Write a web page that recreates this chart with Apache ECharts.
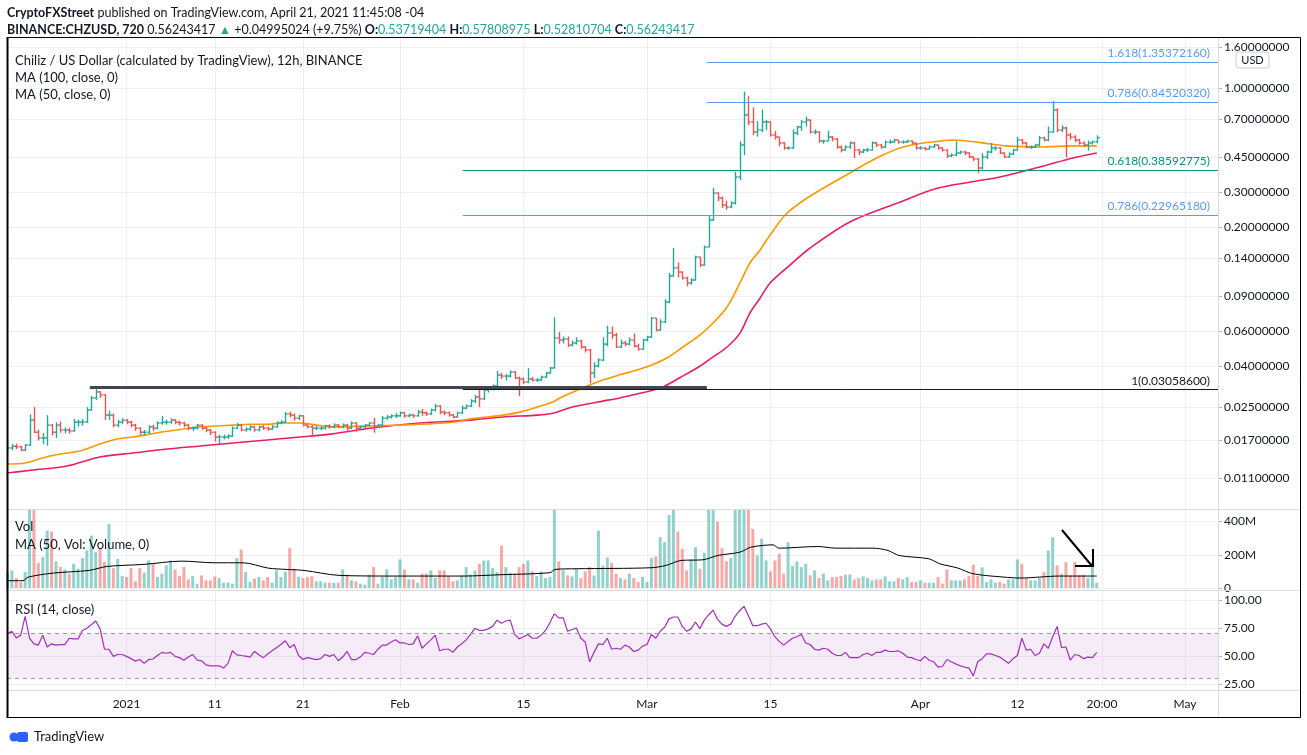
<!DOCTYPE html>
<html>
<head>
<meta charset="utf-8">
<title>Chiliz / US Dollar 12h</title>
<script src="https://cdn.jsdelivr.net/npm/echarts@6/dist/echarts.min.js"></script>
<style>
  html, body { margin: 0; padding: 0; background: #fff; }
  #chart { width: 1307px; height: 755px; }
</style>
</head>
<body>
<div id="chart"></div>
<script>
// 12h bars, the first one opens 2020-12-18 12:00 UTC
const firstBar = '2020-12-18 12:00'
const firstOpen = 0.0149

const closes = [
  0.0156, 0.0159, 0.0158, 0.0152, 0.0161, 0.0215, 0.0187, 0.0175, 0.0175, 0.0203,
  0.0187, 0.0203, 0.0192, 0.0192, 0.0190, 0.0210, 0.0210, 0.0211, 0.0242, 0.0278,
  0.0298, 0.0288, 0.0228, 0.0228, 0.0203, 0.0210, 0.0215, 0.0210, 0.0203, 0.0196,
  0.0187, 0.0187, 0.0199, 0.0196, 0.0208, 0.0210, 0.0210, 0.0215, 0.0210, 0.0208,
  0.0203, 0.0196, 0.0196, 0.0203, 0.0196, 0.0192, 0.0187, 0.0177, 0.0177, 0.0177,
  0.0179, 0.0196, 0.0203, 0.0192, 0.0194, 0.0199, 0.0192, 0.0199, 0.0196, 0.0194,
  0.0199, 0.0208, 0.0210, 0.0231, 0.0228, 0.0220, 0.0226, 0.0203, 0.0199, 0.0196,
  0.0196, 0.0196, 0.0201, 0.0199, 0.0203, 0.0199, 0.0203, 0.0196, 0.0208, 0.0196,
  0.0199, 0.0203, 0.0208, 0.0199, 0.0203, 0.0220, 0.0223, 0.0226, 0.0226, 0.0234,
  0.0226, 0.0228, 0.0226, 0.0236, 0.0234, 0.0231, 0.0242, 0.0253, 0.0236, 0.0234,
  0.0228, 0.0223, 0.0234, 0.0247, 0.0253, 0.0268, 0.0281, 0.0275, 0.0305, 0.0308,
  0.0319, 0.0362, 0.0358, 0.0358, 0.0375, 0.0350, 0.0346, 0.0334, 0.0346, 0.0342,
  0.0342, 0.0354, 0.0371, 0.0393, 0.0556, 0.0543, 0.0549, 0.0512, 0.0525, 0.0537,
  0.0501, 0.0484, 0.0371, 0.0402, 0.0431, 0.0518, 0.0589, 0.0575, 0.0501, 0.0525,
  0.0518, 0.0543, 0.0506, 0.0489, 0.0543, 0.0562, 0.0700, 0.0609, 0.0669, 0.0843,
  0.1138, 0.1250, 0.1192, 0.1112, 0.1050, 0.1086, 0.1417, 0.1292, 0.1591, 0.2174,
  0.2970, 0.2803, 0.2586, 0.2527, 0.2646, 0.3574, 0.5174, 0.7319, 0.6750, 0.6013,
  0.6154, 0.6750, 0.6750, 0.5808, 0.5675, 0.5295, 0.4998, 0.4998, 0.5944, 0.6371,
  0.6750, 0.6908, 0.6013, 0.6013, 0.5419, 0.5419, 0.5675, 0.5545, 0.5056, 0.4883,
  0.5056, 0.5295, 0.4883, 0.4772, 0.4883, 0.4883, 0.5295, 0.5174, 0.5056, 0.5357,
  0.5357, 0.5481, 0.5357, 0.5357, 0.5419, 0.5295, 0.4998, 0.4998, 0.4940, 0.5056,
  0.5174, 0.4998, 0.4883, 0.4556, 0.4609, 0.4717, 0.4772, 0.4717, 0.4504, 0.4401,
  0.3966, 0.4504, 0.4772, 0.4998, 0.4998, 0.4717, 0.4504, 0.4663, 0.4883, 0.5481,
  0.5295, 0.5056, 0.5056, 0.5174, 0.5610, 0.5481, 0.6013, 0.7755, 0.6154, 0.6298,
  0.5808, 0.5675, 0.5481, 0.5295, 0.5174, 0.5295, 0.5372, 0.5624
]

const highs = [
  0.0175, 0.0163, 0.0164, 0.0160, 0.0163, 0.0230, 0.0250, 0.0192, 0.0185, 0.0228,
  0.0206, 0.0210, 0.0212, 0.0198, 0.0197, 0.0218, 0.0216, 0.0218, 0.0250, 0.0284,
  0.0310, 0.0300, 0.0290, 0.0240, 0.0232, 0.0216, 0.0220, 0.0218, 0.0214, 0.0206,
  0.0198, 0.0192, 0.0203, 0.0204, 0.0212, 0.0226, 0.0216, 0.0220, 0.0218, 0.0214,
  0.0211, 0.0206, 0.0200, 0.0206, 0.0205, 0.0199, 0.0194, 0.0189, 0.0181, 0.0182,
  0.0183, 0.0200, 0.0208, 0.0206, 0.0198, 0.0203, 0.0201, 0.0202, 0.0203, 0.0199,
  0.0203, 0.0212, 0.0215, 0.0236, 0.0237, 0.0232, 0.0229, 0.0228, 0.0207, 0.0203,
  0.0201, 0.0200, 0.0204, 0.0205, 0.0207, 0.0206, 0.0207, 0.0206, 0.0212, 0.0210,
  0.0202, 0.0206, 0.0210, 0.0221, 0.0206, 0.0226, 0.0228, 0.0230, 0.0234, 0.0238,
  0.0236, 0.0232, 0.0231, 0.0242, 0.0245, 0.0238, 0.0246, 0.0259, 0.0256, 0.0240,
  0.0238, 0.0231, 0.0237, 0.0255, 0.0258, 0.0274, 0.0288, 0.0312, 0.0316, 0.0314,
  0.0325, 0.0380, 0.0372, 0.0366, 0.0382, 0.0380, 0.0356, 0.0352, 0.0392, 0.0355,
  0.0350, 0.0360, 0.0376, 0.0398, 0.0705, 0.0598, 0.0566, 0.0566, 0.0540, 0.0560,
  0.0545, 0.0505, 0.0490, 0.0420, 0.0440, 0.0560, 0.0640, 0.0635, 0.0590, 0.0546,
  0.0538, 0.0560, 0.0585, 0.0520, 0.0550, 0.0570, 0.0708, 0.0700, 0.0690, 0.0870,
  0.1180, 0.1570, 0.1330, 0.1200, 0.1130, 0.1110, 0.1440, 0.1420, 0.1620, 0.2300,
  0.3150, 0.3000, 0.2850, 0.2720, 0.2700, 0.3800, 0.5400, 0.9580, 0.9100, 0.8000,
  0.6800, 0.7800, 0.6900, 0.6800, 0.6100, 0.5700, 0.5350, 0.5100, 0.6200, 0.6450,
  0.6900, 0.7200, 0.6950, 0.6200, 0.6050, 0.5500, 0.6100, 0.5750, 0.5600, 0.5150,
  0.5150, 0.5400, 0.5350, 0.4950, 0.4950, 0.5000, 0.5400, 0.5350, 0.5250, 0.5450,
  0.5500, 0.5550, 0.5500, 0.5450, 0.5500, 0.5450, 0.5300, 0.5100, 0.5050, 0.5150,
  0.5250, 0.5200, 0.5050, 0.4900, 0.4700, 0.5400, 0.4850, 0.4850, 0.4750, 0.4550,
  0.4450, 0.4700, 0.4850, 0.5300, 0.5100, 0.5050, 0.4750, 0.4750, 0.4950, 0.5700,
  0.5550, 0.5350, 0.5150, 0.5250, 0.5750, 0.5700, 0.6400, 0.8600, 0.7900, 0.6500,
  0.6400, 0.5950, 0.5800, 0.5550, 0.5400, 0.5450, 0.5450, 0.5781
]

const lows = [
  0.0147, 0.0152, 0.0154, 0.0150, 0.0151, 0.0160, 0.0185, 0.0170, 0.0163, 0.0160,
  0.0180, 0.0175, 0.0186, 0.0185, 0.0184, 0.0188, 0.0200, 0.0202, 0.0208, 0.0240,
  0.0272, 0.0278, 0.0215, 0.0215, 0.0198, 0.0198, 0.0205, 0.0205, 0.0198, 0.0190,
  0.0182, 0.0180, 0.0184, 0.0190, 0.0193, 0.0204, 0.0204, 0.0206, 0.0205, 0.0202,
  0.0198, 0.0191, 0.0190, 0.0193, 0.0192, 0.0187, 0.0181, 0.0168, 0.0163, 0.0172,
  0.0173, 0.0177, 0.0194, 0.0189, 0.0188, 0.0190, 0.0188, 0.0189, 0.0192, 0.0190,
  0.0192, 0.0197, 0.0205, 0.0208, 0.0222, 0.0214, 0.0215, 0.0200, 0.0196, 0.0177,
  0.0192, 0.0191, 0.0193, 0.0195, 0.0196, 0.0196, 0.0196, 0.0187, 0.0194, 0.0188,
  0.0193, 0.0196, 0.0200, 0.0186, 0.0196, 0.0200, 0.0216, 0.0219, 0.0220, 0.0224,
  0.0221, 0.0222, 0.0221, 0.0224, 0.0226, 0.0226, 0.0229, 0.0238, 0.0230, 0.0228,
  0.0224, 0.0220, 0.0221, 0.0231, 0.0244, 0.0250, 0.0262, 0.0250, 0.0272, 0.0296,
  0.0303, 0.0315, 0.0346, 0.0340, 0.0352, 0.0345, 0.0284, 0.0326, 0.0330, 0.0336,
  0.0334, 0.0338, 0.0350, 0.0368, 0.0390, 0.0520, 0.0522, 0.0500, 0.0505, 0.0515,
  0.0490, 0.0470, 0.0330, 0.0350, 0.0396, 0.0425, 0.0505, 0.0550, 0.0495, 0.0495,
  0.0505, 0.0510, 0.0498, 0.0480, 0.0485, 0.0535, 0.0556, 0.0600, 0.0605, 0.0660,
  0.0830, 0.1130, 0.1120, 0.1090, 0.1010, 0.1030, 0.1080, 0.1260, 0.1280, 0.1590,
  0.2150, 0.2700, 0.2500, 0.2450, 0.2490, 0.2600, 0.3450, 0.4600, 0.6500, 0.5800,
  0.5700, 0.6000, 0.6150, 0.5700, 0.5500, 0.5100, 0.4900, 0.4900, 0.4950, 0.5800,
  0.6100, 0.6400, 0.5900, 0.5850, 0.5300, 0.5250, 0.5400, 0.5400, 0.4950, 0.4750,
  0.4850, 0.4950, 0.4450, 0.4600, 0.4700, 0.4780, 0.4850, 0.5050, 0.4950, 0.5000,
  0.5250, 0.5300, 0.5250, 0.5250, 0.5300, 0.5200, 0.4900, 0.4900, 0.4850, 0.4900,
  0.5000, 0.4900, 0.4800, 0.4450, 0.4500, 0.4550, 0.4650, 0.4600, 0.4450, 0.4300,
  0.3740, 0.3900, 0.4400, 0.4700, 0.4850, 0.4650, 0.4450, 0.4450, 0.4600, 0.4850,
  0.5200, 0.4980, 0.4950, 0.5000, 0.5100, 0.5400, 0.5400, 0.5950, 0.6000, 0.6000,
  0.4480, 0.5500, 0.5350, 0.5200, 0.5050, 0.4850, 0.5200, 0.5281
]

// volume in millions
const volumes = [
  90, 106, 60, 36, 96, 520, 520, 152, 186, 346,
  340, 160, 126, 112, 86, 146, 116, 180, 226, 316,
  216, 240, 156, 386, 120, 176, 72, 66, 120, 40,
  120, 92, 166, 146, 66, 86, 136, 166, 112, 72,
  126, 52, 72, 26, 76, 46, 46, 70, 60, 32,
  32, 26, 180, 232, 96, 36, 56, 66, 46, 66,
  32, 106, 66, 100, 240, 116, 66, 60, 66, 72,
  40, 40, 32, 32, 32, 32, 112, 80, 46, 40,
  26, 20, 80, 126, 26, 66, 112, 52, 66, 172,
  112, 52, 52, 32, 86, 86, 106, 60, 106, 106,
  72, 40, 46, 76, 126, 80, 106, 146, 166, 166,
  120, 96, 256, 126, 92, 86, 126, 146, 166, 100,
  72, 100, 60, 66,
  520, 160, 106, 76, 70, 116, 60, 100, 126, 76,
  346, 136, 184, 152, 86, 60, 52, 86, 60, 36,
  66, 36, 180, 190, 306, 276, 440, 520, 340, 236,
  106, 172, 246, 116, 212, 520, 520, 400, 240, 160,
  180, 520, 520, 520, 520, 356, 196, 296, 166, 100,
  166, 206, 86, 276, 132, 160, 126, 146, 76, 106,
  60, 86, 46, 66, 66, 72, 80, 82, 52, 60,
  70, 60, 46, 52, 52, 70, 40, 40, 60, 52,
  66, 36, 36, 46, 32, 32, 32, 66, 26, 112,
  46, 46, 46, 52, 72, 140, 72, 124, 36, 52,
  32, 36, 26, 52, 52, 172, 146, 60, 46, 46,
  60, 96, 226, 306, 136, 86, 156, 76, 156, 76,
  80, 60, 156, 32
]

const rsi = [
  70, 72, 66, 68.6, 85.4, 66, 60.8, 59.7, 68.6,
  58, 60.8, 59.7, 60.2, 60.2, 65.8, 65.2, 65.2, 72.8, 74.8,
  77.8, 81.2, 74.2, 56, 56, 49.6, 51.3, 51.3, 49.6, 47.6,
  45.4, 46.8, 43.4, 46.8, 47.3, 50.4, 53.2, 52.4, 53.2, 49.6,
  48.5, 46.2, 49, 51.3, 46.2, 45.7, 42, 41.2, 41.2, 41.2,
  39.2, 43.4, 54.6, 51, 50.4, 49.9, 49, 54, 51, 48.5,
  51.8, 54.6, 57.4, 60.2, 63.6, 57.4, 60.2, 50.4, 46.8, 48.5,
  47.6, 46.8, 47.6, 51.3, 49.6, 51.3, 45.7, 49, 54, 46.8,
  46.8, 49, 53.2, 52.4, 51.3, 56, 59.7, 59.7, 62.4, 64.4,
  61.6, 61.6, 60.2, 60.8, 68, 56.9, 60.8, 64.4, 68.6, 54.6,
  56, 56, 53.2, 58, 60.8, 64.4, 69.2, 74.8, 72.8, 72.8,
  74.2, 76.4, 82, 79.2, 81.2, 82, 69.2, 65.2, 67.2, 69.2,
  65.8, 65.8, 68.6, 72.8, 79.8,
  87.6, 84, 84, 72, 73.6, 74.8, 65.8, 62.4, 44.8, 53.2,
  60.8, 60.2, 65.8, 56, 56.9, 56, 59.7, 58, 54, 55.2,
  58.8, 60.2, 69.2, 65.8, 72, 75.6, 83.1, 84.8, 84.8, 76.4,
  72, 74.2, 80.3, 74.2, 82, 86.8, 91, 82.6, 78.4, 76.4,
  78.4, 85.4, 90.4, 94.3, 86, 77, 77, 78.4, 79.2, 74.2,
  67.2, 63, 59.7, 63, 65.8, 67.2, 69.2, 61.6, 60.2, 56,
  55.2, 56.9, 56, 52.4, 50.4, 50.4, 53.2, 48.5, 48.5, 48.5,
  51.3, 52.4, 50.4, 53.2, 53.2, 55.2, 54, 54, 54.6, 52.4,
  49, 48.5, 46.8, 45.7, 49.6, 46.2, 44.8, 40.1, 40.6, 46.8,
  44.8, 42.9, 41.2, 40.1, 39.2, 32.2, 44.8, 47.6, 51.8, 51.8,
  50.4, 49, 46.2, 43.4, 47.6, 50.4, 65.8, 55.2, 56, 50.4,
  52.4, 60.8, 56.9, 67.2, 76.4, 57.4, 58, 46.2, 51.3, 50.4,
  47.6, 49, 48.5, 53.2
]

const ma50 = [
  ['2020-12-18 10:00', 0.01295], ['2020-12-20 12:00', 0.01311], ['2020-12-23 08:00', 0.01421],
  ['2020-12-27 01:00', 0.0152], ['2020-12-28 23:00', 0.01632], ['2020-12-30 22:00', 0.0173],
  ['2021-01-01 18:00', 0.0177], ['2021-01-03 16:00', 0.0183], ['2021-01-05 14:00', 0.0189],
  ['2021-01-07 10:00', 0.0194], ['2021-01-09 08:00', 0.0199], ['2021-01-11 06:00', 0.0201],
  ['2021-01-13 02:00', 0.0203], ['2021-01-15 00:00', 0.0205], ['2021-01-16 22:00', 0.0205],
  ['2021-01-18 18:00', 0.0208], ['2021-01-20 16:00', 0.0208], ['2021-01-22 14:00', 0.0203],
  ['2021-01-24 02:00', 0.0199], ['2021-01-28 14:00', 0.0201], ['2021-02-03 06:00', 0.0205],
  ['2021-02-07 00:00', 0.0210], ['2021-02-08 22:00', 0.0218], ['2021-02-10 21:00', 0.0223],
  ['2021-02-12 16:00', 0.0228], ['2021-02-14 14:00', 0.0236], ['2021-02-16 13:00', 0.0250],
  ['2021-02-18 08:00', 0.0265], ['2021-02-19 03:00', 0.0278], ['2021-02-20 15:00', 0.0298],
  ['2021-02-22 05:00', 0.0319], ['2021-02-24 00:00', 0.0342], ['2021-02-25 22:00', 0.0363],
  ['2021-02-27 21:00', 0.0384], ['2021-03-01 08:00', 0.0403], ['2021-03-03 06:00', 0.0441],
  ['2021-03-05 02:00', 0.0501], ['2021-03-07 00:00', 0.0575], ['2021-03-08 12:00', 0.0661],
  ['2021-03-10 02:00', 0.0795], ['2021-03-11 13:00', 0.1050], ['2021-03-12 16:00', 0.1323],
  ['2021-03-13 20:00', 0.1537], ['2021-03-14 23:00', 0.1828], ['2021-03-16 16:00', 0.2304],
  ['2021-03-18 08:00', 0.2647], ['2021-03-20 15:00', 0.3076], ['2021-03-24 00:00', 0.3743],
  ['2021-03-25 23:00', 0.4202], ['2021-03-27 18:00', 0.461], ['2021-03-29 16:00', 0.500],
  ['2021-03-31 15:00', 0.5234], ['2021-04-02 10:00', 0.536], ['2021-04-04 17:00', 0.548],
  ['2021-04-06 07:00', 0.542], ['2021-04-08 02:00', 0.530], ['2021-04-10 20:00', 0.512],
  ['2021-04-14 13:00', 0.506], ['2021-04-18 07:00', 0.512], ['2021-04-21 00:00', 0.512]
]

const ma100 = [
  ['2020-12-18 10:00', 0.01167], ['2020-12-21 09:00', 0.01208], ['2020-12-25 06:00', 0.01265],
  ['2020-12-28 23:00', 0.01404], ['2021-01-01 18:00', 0.0147], ['2021-01-05 14:00', 0.0154],
  ['2021-01-09 08:00', 0.01594], ['2021-01-13 02:00', 0.01651], ['2021-01-16 22:00', 0.01709],
  ['2021-01-20 16:00', 0.0177], ['2021-01-24 02:00', 0.0183], ['2021-01-28 14:00', 0.0196],
  ['2021-02-03 06:00', 0.0208], ['2021-02-08 22:00', 0.0215], ['2021-02-12 16:00', 0.0223],
  ['2021-02-16 13:00', 0.0228], ['2021-02-18 08:00', 0.0233], ['2021-02-20 06:00', 0.0248],
  ['2021-02-22 05:00', 0.0259], ['2021-02-24 00:00', 0.0268], ['2021-02-25 22:00', 0.0278],
  ['2021-02-27 21:00', 0.0291], ['2021-03-01 08:00', 0.0301], ['2021-03-02 19:00', 0.0315],
  ['2021-03-04 17:00', 0.0351], ['2021-03-07 00:00', 0.0401], ['2021-03-08 12:00', 0.0447],
  ['2021-03-10 02:00', 0.0501], ['2021-03-11 13:00', 0.0588], ['2021-03-12 16:00', 0.0741],
  ['2021-03-13 20:00', 0.0883], ['2021-03-14 23:00', 0.1050], ['2021-03-17 05:00', 0.1292],
  ['2021-03-19 12:00', 0.1573], ['2021-03-24 00:00', 0.2124], ['2021-03-29 17:00', 0.2677],
  ['2021-04-03 00:00', 0.3147], ['2021-04-10 00:00', 0.3574], ['2021-04-14 13:00', 0.4012],
  ['2021-04-18 07:00', 0.4452], ['2021-04-21 00:00', 0.4717]
]

const volMa = [
  ['2020-12-18 11:00', 44], ['2020-12-20 06:00', 44], ['2020-12-20 21:00', 66], ['2020-12-23 17:00', 90],
  ['2020-12-27 18:00', 106], ['2020-12-29 19:00', 130], ['2021-01-02 21:00', 142], ['2021-01-07 07:00', 162],
  ['2021-01-10 22:00', 152], ['2021-01-14 05:00', 152], ['2021-01-17 01:00', 120], ['2021-01-19 02:00', 112],
  ['2021-01-21 03:00', 106], ['2021-01-25 02:00', 76], ['2021-01-31 05:00', 72], ['2021-02-08 06:00', 72],
  ['2021-02-12 08:00', 80], ['2021-02-18 00:00', 92], ['2021-02-18 14:00', 112], ['2021-02-21 01:00', 116],
  ['2021-03-01 11:00', 122], ['2021-03-03 04:00', 136], ['2021-03-04 21:00', 166], ['2021-03-07 08:00', 170],
  ['2021-03-09 01:00', 196], ['2021-03-11 13:00', 216], ['2021-03-12 19:00', 246], ['2021-03-15 07:00', 260],
  ['2021-03-15 23:00', 240], ['2021-03-20 09:00', 250], ['2021-03-22 10:00', 240], ['2021-03-26 15:00', 240],
  ['2021-03-28 08:00', 226], ['2021-03-29 14:00', 196], ['2021-04-01 23:00', 176], ['2021-04-03 05:00', 146],
  ['2021-04-05 06:00', 120], ['2021-04-06 23:00', 86], ['2021-04-10 09:00', 66], ['2021-04-12 10:00', 60],
  ['2021-04-14 13:00', 66], ['2021-04-16 17:00', 72], ['2021-04-21 00:00', 72]
]

const fibNames = ['1.618', '0.786', '0.618', '0.786', '1']
const fibPrices = [1.35372160, 0.84520320, 0.38592775, 0.22965180, 0.03058600]
const fibFrom = ['2021-03-07 19:00', '2021-03-07 19:00', '2021-02-08 03:00', '2021-02-08 03:00', '2021-02-08 03:00']
const resistance = 0.0315
const resistanceFrom = '2020-12-27 20:00'
const resistanceTo = '2021-03-07 19:00'

const dateTicks = ['2021-01-01 00:00', '2021-01-11 00:00', '2021-01-21 00:00', '2021-02-01 00:00', '2021-02-15 00:00',
  '2021-03-01 00:00', '2021-03-15 00:00', '2021-04-01 00:00', '2021-04-12 00:00', '2021-04-21 14:00', '2021-05-01 00:00']
const dateLabels = ['2021', '11', '21', 'Feb', '15', 'Mar', '15', 'Apr', '12', '20:00', 'May']
const priceTicks = [0.011, 0.017, 0.025, 0.04, 0.06, 0.09, 0.14, 0.2, 0.3, 0.45, 0.7, 1, 1.6]
const volTicks = [0, 200, 400]
const rsiTicks = [25, 50, 75, 100]

const UP = '#26a69a'
const DOWN = '#ef5350'
const FONT = 'Lato, "Noto Sans", sans-serif'
const TEXT = '#131722'
const GRIDLINE = '#eef0f4'
const SEP = '#d9dce3'
const fibColors = ['#5b9cf0', '#5b9cf0', '#0b8f7f', '#5b9cf0', '#131722']

const toTime = (s) => Date.parse(s.replace(' ', 'T') + ':00Z')
const HALF_DAY = 12 * 3600 * 1000
const xMin = toTime('2020-12-18 10:40')
const xMax = toTime('2021-05-04 17:45')
const t0 = toTime(firstBar)
const barTimes = closes.map((c, i) => t0 + i * HALF_DAY)
const opens = closes.map((c, i) => (i ? closes[i - 1] : firstOpen))
const tickTimes = dateTicks.map(toTime)

const bars = closes.map((c, i) => [barTimes[i], opens[i], c, lows[i], highs[i]])
const volBars = volumes.map((v, i) => ({
  value: [barTimes[i], v],
  itemStyle: { color: closes[i] >= opens[i] ? 'rgba(38,166,154,0.5)' : 'rgba(239,83,80,0.5)' },
}))
const line = (pts) => pts.map((p) => [toTime(p[0]), p[1]])

const renderBar = (params, api) => {
  const x = api.value(0)
  const o = api.coord([x, api.value(1)])
  const c = api.coord([x, api.value(2)])
  const l = api.coord([x, api.value(3)])
  const h = api.coord([x, api.value(4)])
  const style = { stroke: api.value(2) >= api.value(1) ? UP : DOWN, lineWidth: 1.4 }
  const px = Math.round(o[0]) + 0.5
  return {
    type: 'group',
    children: [
      { type: 'line', shape: { x1: px, y1: h[1], x2: px, y2: l[1] }, style },
      { type: 'line', shape: { x1: px - 2.2, y1: o[1], x2: px, y2: o[1] }, style },
      { type: 'line', shape: { x1: px, y1: c[1], x2: px + 2.2, y2: c[1] }, style },
    ],
  }
}

const fibLines = fibPrices.map((p, k) => [
  {
    coord: [toTime(fibFrom[k]), p],
    lineStyle: { color: fibColors[k], width: 1, type: 'solid' },
    label: {
      show: true,
      position: 'insideEndTop',
      formatter: fibNames[k] + '(' + p.toFixed(8) + ')',
      color: fibColors[k],
      fontFamily: FONT,
      fontSize: 12,
      distance: [8, 3],
    },
  },
  { coord: [xMax, p] },
])
fibLines.push([
  { coord: [toTime(resistanceFrom), resistance], lineStyle: { color: '#434651', width: 3, type: 'solid' }, label: { show: false } },
  { coord: [toTime(resistanceTo), resistance] },
])

// x is a plain value axis of UTC milliseconds, labelled at the chart's own dates
const xAxisBase = (gridIndex, showLabel) => ({
  type: 'value',
  gridIndex,
  min: xMin,
  max: xMax,
  axisLine: { show: false },
  axisTick: { show: false, customValues: tickTimes },
  axisLabel: {
    show: showLabel,
    customValues: tickTimes,
    formatter: (v) => dateLabels[tickTimes.indexOf(v)] || '',
    color: TEXT,
    fontFamily: FONT,
    fontSize: 12,
    margin: 8,
  },
  splitLine: { show: true, lineStyle: { color: GRIDLINE } },
})

const yAxisBase = (gridIndex, ticks, formatter) => ({
  gridIndex,
  position: 'right',
  axisLine: { show: false },
  axisTick: { show: true, length: 4, customValues: ticks, lineStyle: { color: '#b2b5be' } },
  axisLabel: { customValues: ticks, formatter, color: TEXT, fontFamily: FONT, fontSize: 12, margin: 6 },
  splitLine: { show: true, lineStyle: { color: GRIDLINE } },
})

const label = (x, y, text) => ({
  type: 'text', x, y, z: 100,
  style: { text, font: '13px ' + FONT, fill: TEXT, verticalAlign: 'middle' },
})

const chart = echarts.init(document.getElementById('chart'))
chart.setOption({
  animation: false,
  backgroundColor: '#fff',
  grid: [
    { left: 7, right: 89, top: 37, height: 472 },
    { left: 7, right: 89, top: 510, height: 78 },
    { left: 7, right: 89, top: 591, height: 99 },
  ],
  xAxis: [xAxisBase(0, false), xAxisBase(1, false), xAxisBase(2, true)],
  yAxis: [
    Object.assign(yAxisBase(0, priceTicks, (v) => v.toFixed(8)), { type: 'log', logBase: 10, min: 0.0077, max: 1.803 }),
    Object.assign(yAxisBase(1, volTicks, (v) => (v ? v + 'M' : '0')), { type: 'value', min: 0, max: 470 }),
    Object.assign(yAxisBase(2, rsiTicks, (v) => v.toFixed(2)), { type: 'value', min: 19.6, max: 108 }),
  ],
  series: [
    {
      name: 'MA (100, close, 0)',
      type: 'line',
      xAxisIndex: 0,
      yAxisIndex: 0,
      data: line(ma100),
      smooth: 0.3,
      showSymbol: false,
      lineStyle: { color: '#e91e63', width: 1.6 },
      z: 3,
      markLine: { silent: true, symbol: ['none', 'none'], data: fibLines },
    },
    {
      name: 'MA (50, close, 0)',
      type: 'line',
      xAxisIndex: 0,
      yAxisIndex: 0,
      data: line(ma50),
      smooth: 0.3,
      showSymbol: false,
      lineStyle: { color: '#ff9800', width: 1.6 },
      z: 3,
    },
    {
      name: 'CHZUSD',
      type: 'custom',
      xAxisIndex: 0,
      yAxisIndex: 0,
      renderItem: renderBar,
      encode: { x: 0, y: [1, 2, 3, 4] },
      data: bars,
      clip: true,
      z: 4,
    },
    {
      name: 'Vol',
      type: 'bar',
      xAxisIndex: 1,
      yAxisIndex: 1,
      data: volBars,
      barWidth: 3,
      clip: true,
    },
    {
      name: 'MA (50, Vol: Volume, 0)',
      type: 'line',
      xAxisIndex: 1,
      yAxisIndex: 1,
      data: line(volMa),
      smooth: 0.3,
      showSymbol: false,
      lineStyle: { color: '#000', width: 1 },
    },
    {
      name: 'RSI (14, close)',
      type: 'line',
      xAxisIndex: 2,
      yAxisIndex: 2,
      data: rsi.map((v, i) => [barTimes[i], v]),
      showSymbol: false,
      lineStyle: { color: '#a32fb8', width: 1.2 },
      markArea: { silent: true, itemStyle: { color: 'rgba(156,39,176,0.09)' }, data: [[{ yAxis: 30 }, { yAxis: 70 }]] },
      markLine: {
        silent: true,
        symbol: ['none', 'none'],
        label: { show: false },
        lineStyle: { color: '#9598a1', type: [4, 4], width: 1 },
        data: [{ yAxis: 70 }, { yAxis: 30 }],
      },
    },
  ],
  graphic: [
    {
      type: 'text', x: 7, y: 13, z: 100,
      style: {
        text: '{b|CryptoFXStreet} published on TradingView.com, April 21, 2021 11:45:08 -04',
        font: '12.5px ' + FONT, fill: TEXT, verticalAlign: 'middle',
        rich: { b: { fontWeight: 'bold', fontSize: 12.5, fontFamily: FONT, fill: TEXT } },
      },
    },
    {
      type: 'text', x: 7, y: 30, z: 100,
      style: {
        text: '{b|BINANCE:CHZUSD, 720} 0.56243417 {g|▲} +0.04995024 (+9.75%) {b|O:}{g|0.53719404} {b|H:}{g|0.57808975} {b|L:}{g|0.52810704} {b|C:}{g|0.56243417}',
        font: '12.5px ' + FONT, fill: TEXT, verticalAlign: 'middle',
        rich: {
          b: { fontWeight: 'bold', fontSize: 12.5, fontFamily: FONT, fill: TEXT },
          g: { fontSize: 12.5, fontFamily: FONT, fill: UP },
        },
      },
    },
    label(15, 61, 'Chiliz / US Dollar (calculated by TradingView), 12h, BINANCE'),
    label(15, 78, 'MA (100, close, 0)'),
    label(15, 95, 'MA (50, close, 0)'),
    label(15, 527, 'Vol'),
    label(15, 545, 'MA (50, Vol: Volume, 0)'),
    label(15, 610, 'RSI (14, close)'),
    // USD badge under the top price label
    { type: 'rect', z: 100, shape: { x: 1236, y: 52, width: 33, height: 16, r: 3 }, style: { fill: '#fff', stroke: '#c9ccd3', lineWidth: 1 } },
    { type: 'text', z: 101, x: 1252.5, y: 60, style: { text: 'USD', font: '11px ' + FONT, fill: TEXT, align: 'center', verticalAlign: 'middle' } },
    // pane separators and frame
    { type: 'line', z: 100, shape: { x1: 7, y1: 509.5, x2: 1301, y2: 509.5 }, style: { stroke: SEP, lineWidth: 1 } },
    { type: 'line', z: 100, shape: { x1: 7, y1: 590.5, x2: 1301, y2: 590.5 }, style: { stroke: SEP, lineWidth: 1 } },
    { type: 'line', z: 100, shape: { x1: 7, y1: 690.5, x2: 1301, y2: 690.5 }, style: { stroke: SEP, lineWidth: 1 } },
    { type: 'line', z: 100, shape: { x1: 1218.5, y1: 37, x2: 1218.5, y2: 718 }, style: { stroke: SEP, lineWidth: 1 } },
    { type: 'rect', z: 100, shape: { x: 7.5, y: 37.5, width: 1293, height: 680 }, style: { fill: null, stroke: '#000', lineWidth: 1 } },
    { type: 'line', z: 100, shape: { x1: 7.5, y1: 37, x2: 7.5, y2: 718 }, style: { stroke: '#000', lineWidth: 2 } },
    // arrow drawn on the volume pane
    { type: 'polyline', z: 100, shape: { points: [[1062, 530], [1092, 566]] }, style: { stroke: '#000', lineWidth: 2, fill: null } },
    { type: 'polyline', z: 100, shape: { points: [[1075, 566], [1093, 566], [1093, 549]] }, style: { stroke: '#000', lineWidth: 2, fill: null } },
    // footer logo
    { type: 'circle', shape: { cx: 14, cy: 737, r: 4.5 }, style: { fill: '#2962ff' } },
    { type: 'rect', shape: { x: 17, y: 732, width: 11, height: 10, r: 2 }, style: { fill: '#2962ff' } },
    label(34, 737, 'TradingView'),
  ],
})
</script>
</body>
</html>
